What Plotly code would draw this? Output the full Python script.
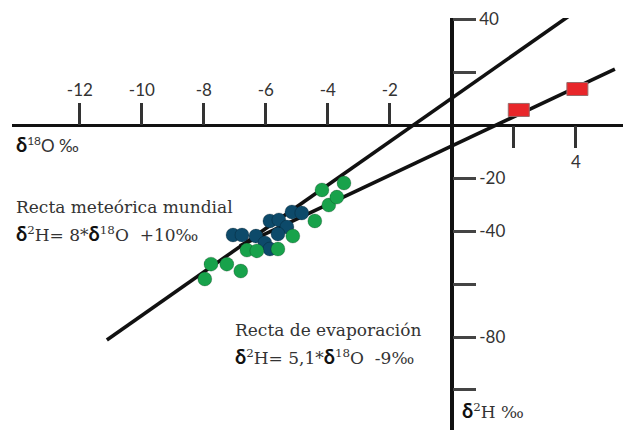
import plotly.graph_objects as go

# ---- data ----
xtick_neg = [-12, -10, -8, -6, -4, -2]
xtick_pos = [2, 4]
xtick_pos_text = ["", "4"]
ytick_vals = [40, 20, -20, -40, -60, -80, -100]
ytick_text = ["40", "", "-20", "-40", "", "-80", ""]

green_x = [-7.97, -7.77, -7.26, -6.81, -6.61, -6.29, -5.61, -5.13, -4.42, -3.97, -3.71, -4.19, -3.48]
green_y = [-58.1, -52.5, -52.5, -55.1, -47.2, -47.5, -46.8, -41.9, -36.2, -30.2, -27.2, -24.5, -21.9]

blue_x = [-7.06, -6.77, -6.32, -6.03, -5.87, -5.87, -5.58, -5.32, -5.61, -5.16, -4.84]
blue_y = [-41.5, -41.5, -41.9, -44.5, -46.8, -36.2, -35.8, -38.5, -41.1, -32.8, -33.2]

meteoric_x = [-11.13, 3.87]
meteoric_y = [-81.1, 41.9]
evap_x = [-6.84, 5.26]
evap_y = [-45.6, 21.1]

red_x = [2.16, 4.05]
red_y = [5.7, 13.6]

# ---- layout geometry (page body has an 8px offset) ----
OFF = 8
W, H = 631 - OFF, 430 - OFF
ML, MR, MT, MB = 12 - OFF, 0, 18 - OFF, 0
XR = [-14.19, 5.78]
YR = [-115.1, 40.4]
pw = W - ML - MR
ph = H - MT - MB


def px(xp, yp):
    xp -= OFF
    yp -= OFF
    return (xp - ML) / pw, (H - MB - yp) / ph


x0pos = (0 - XR[0]) / (XR[1] - XR[0])
y0pos = (0 - YR[0]) / (YR[1] - YR[0])

fig = go.Figure()

fig.add_trace(go.Scatter(x=meteoric_x, y=meteoric_y, mode="lines",
                         line=dict(color="#111", width=3.6), hoverinfo="skip"))
fig.add_trace(go.Scatter(x=evap_x, y=evap_y, mode="lines",
                         line=dict(color="#111", width=3.6), hoverinfo="skip"))
fig.add_trace(go.Scatter(x=blue_x, y=blue_y, mode="markers",
                         marker=dict(size=14, color="#0d4a6a",
                                     line=dict(width=0.6, color="rgba(0,0,0,0.35)"))))
fig.add_trace(go.Scatter(x=green_x, y=green_y, mode="markers",
                         marker=dict(size=14, color="#18a24b",
                                     line=dict(width=0.6, color="rgba(0,0,0,0.35)"))))
# invisible trace for secondary x axis
fig.add_trace(go.Scatter(x=[None], y=[None], xaxis="x2", yaxis="y", showlegend=False))

# red rectangles
hw = 10.5 / (pw / (XR[1] - XR[0]))
hh = 6.5 / (ph / (YR[1] - YR[0]))
for cx, cy in zip(red_x, red_y):
    fig.add_shape(type="rect", xref="x", yref="y", x0=cx - hw, x1=cx + hw,
                  y0=cy - hh, y1=cy + hh, fillcolor="#e8262a",
                  line=dict(color="#9a6a6a", width=1), layer="above")

tickfont = dict(family="Lato", size=17, color="#333")

fig.update_layout(
    width=W, height=H, showlegend=False,
    paper_bgcolor="white", plot_bgcolor="white",
    margin=dict(l=ML, r=MR, t=MT, b=MB, autoexpand=False),
    xaxis=dict(range=XR, side="top", anchor="free", position=y0pos,
               tickvals=xtick_neg, ticktext=[str(v) for v in xtick_neg],
               ticks="outside", ticklen=22, tickwidth=3, tickcolor="#333",
               tickfont=tickfont, showgrid=False, showline=False,
               zeroline=True, zerolinecolor="#111", zerolinewidth=4,
               automargin=False),
    xaxis2=dict(range=XR, side="bottom", overlaying="x", anchor="free", position=y0pos,
                tickvals=xtick_pos, ticktext=xtick_pos_text,
                ticks="outside", ticklen=22, tickwidth=3, tickcolor="#333",
                tickfont=tickfont, showgrid=False, showline=False, zeroline=False,
                automargin=False),
    yaxis=dict(range=YR, side="right", anchor="free", position=x0pos,
               tickvals=ytick_vals, ticktext=ytick_text,
               ticks="outside", ticklen=23, tickwidth=3, tickcolor="#444",
               tickfont=tickfont, showgrid=False, showline=False,
               zeroline=True, zerolinecolor="#111", zerolinewidth=3,
               automargin=False),
)

serif = "DejaVu Serif"
sans = "Lato"
dlt = '<span style="font-family:Lato;font-weight:bold;font-size:20px;color:#111">δ</span>'


def ann(text, xp, yp, size=17, family=serif):
    xa, ya = px(xp, yp)
    fig.add_annotation(text=text, x=xa, y=ya, xref="paper", yref="paper",
                       xanchor="left", yanchor="middle", showarrow=False,
                       font=dict(family=family, size=size, color="#333"))


ann(dlt + "<sup>18</sup>O ‰", 14, 144, family=sans)
ann("Recta meteórica mundial", 14, 207)
ann(dlt + "<sup>2</sup>H= 8*" + dlt + "<sup>18</sup>O  +10‰", 14, 233)
ann("Recta de evaporación", 233, 330)
ann(dlt + "<sup>2</sup>H= 5,1*" + dlt + "<sup>18</sup>O  -9‰", 233, 356)
ann(dlt + "<sup>2</sup>H ‰", 460, 410)

fig.write_html("out.html")
